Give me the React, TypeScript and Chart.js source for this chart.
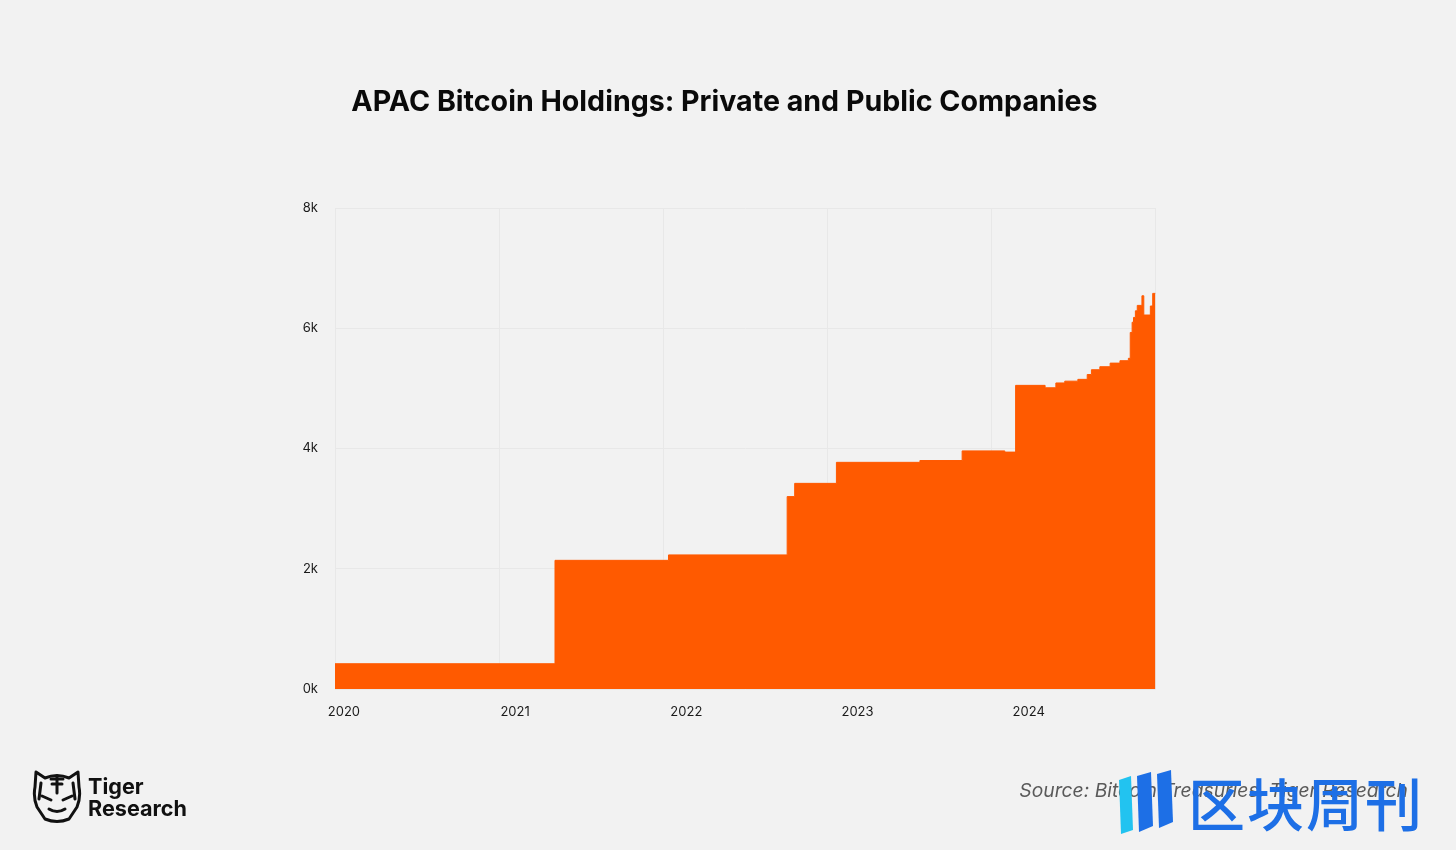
import React, { useEffect, useRef } from "react";
import { Chart, registerables } from "chart.js";

Chart.register(...registerables);

const TITLE = "APAC Bitcoin Holdings: Private and Public Companies";
const SOURCE = "Source: Bitcoin Treasuries, Tiger Research";
const BRAND_LINES = ["Tiger", "Research"];
const WATERMARK = "区块周刊";

const DATES = [
  "2019-12-13", "2021-03-27", "2021-11-24", "2022-08-04", "2022-08-20",
  "2022-11-17", "2023-05-14", "2023-08-12", "2023-11-11", "2023-12-04",
  "2024-02-05", "2024-02-28", "2024-03-18", "2024-04-15", "2024-05-05",
  "2024-05-14", "2024-06-01", "2024-06-23", "2024-07-14", "2024-08-01",
  "2024-08-05", "2024-08-09", "2024-08-12", "2024-08-16", "2024-08-20",
  "2024-08-30", "2024-09-03", "2024-09-17", "2024-09-22", "2024-09-28",
];

const HOLDINGS = [
  420, 2140, 2230, 3200, 3420,
  3770, 3800, 3960, 3940, 5050,
  5010, 5090, 5120, 5150, 5230,
  5310, 5360, 5420, 5460, 5500,
  5930, 6100, 6180, 6290, 6380,
  6540, 6220, 6370, 6580, 6580,
];

const YEAR_TICKS = [2020, 2021, 2022, 2023, 2024];
const Y_TICKS = [0, 2000, 4000, 6000, 8000];

function toYear(d: string): number {
  const [y, m, dd] = d.split("-").map(Number);
  const start = Date.UTC(y, 0, 1);
  const end = Date.UTC(y + 1, 0, 1);
  return y + (Date.UTC(y, m - 1, dd) - start) / (end - start);
}

const TICK_FONT = { family: "Inter", size: 13, weight: 400 as const };

export default function App() {
  const canvasRef = useRef<HTMLCanvasElement | null>(null);

  useEffect(() => {
    document.body.style.margin = "0";
    document.body.style.background = "#f2f2f2";
    const canvas = canvasRef.current;
    if (!canvas) return;
    const points = DATES.map((d, i) => ({ x: toYear(d), y: HOLDINGS[i] }));
    const chart = new Chart(canvas, {
      type: "line",
      data: {
        datasets: [
          {
            data: points,
            stepped: true,
            fill: "origin",
            backgroundColor: "#FF5A00",
            borderColor: "#FF5A00",
            borderWidth: 1,
            pointRadius: 0,
            tension: 0,
          },
        ],
      },
      options: {
        animation: false,
        responsive: false,
        layout: { padding: { top: 208, right: 300.5, bottom: 121, left: 0 } },
        plugins: { legend: { display: false }, tooltip: { enabled: false } },
        scales: {
          x: {
            type: "linear",
            position: "bottom",
            min: points[0].x,
            max: points[points.length - 1].x,
            afterBuildTicks: (s: any) => {
              s.ticks = YEAR_TICKS.map((v) => ({ value: v }));
            },
            afterFit: (s: any) => {
              s.height = 40;
            },
            grid: { display: false },
            border: { display: false },
            ticks: {
              padding: 7,
              autoSkip: false,
              maxRotation: 0,
              color: "#1a1a1a",
              font: TICK_FONT,
              callback: (v: any) => String(v),
            },
          },
          xg: {
            type: "linear",
            position: "top",
            min: 0,
            max: 5,
            afterFit: (s: any) => {
              s.height = 0;
            },
            grid: { color: "#e8e8e8", drawTicks: false },
            border: { display: false },
            ticks: { display: false, stepSize: 1 },
          },
          y: {
            type: "linear",
            min: 0,
            max: 8000,
            afterBuildTicks: (s: any) => {
              s.ticks = Y_TICKS.map((v) => ({ value: v }));
            },
            afterFit: (s: any) => {
              s.width = 335;
            },
            grid: { color: "#e8e8e8", drawTicks: false },
            border: { display: false },
            ticks: {
              padding: 17,
              color: "#1a1a1a",
              font: TICK_FONT,
              callback: (v: any) => Number(v) / 1000 + "k",
            },
          },
        },
      },
    } as any);
    return () => chart.destroy();
  }, []);

  return (
    <div
      style={{
        position: "absolute",
        left: 0,
        top: 0,
        width: 1456,
        height: 850,
        background: "#f2f2f2",
        overflow: "hidden",
        fontFamily: "Inter, sans-serif",
      }}
    >
      <canvas
        ref={canvasRef}
        width={1456}
        height={850}
        style={{ position: "absolute", left: 0, top: 0, width: 1456, height: 850 }}
      />
      <div
        style={{
          position: "absolute",
          left: 0,
          width: 1449,
          top: 83,
          textAlign: "center",
          fontSize: 28.6,
          fontWeight: 700,
          color: "#0a0a0a",
          lineHeight: "36px",
          whiteSpace: "nowrap",
        }}
      >
        {TITLE}
      </div>
      <svg
        width="52"
        height="56"
        viewBox="0 0 52 56"
        style={{ position: "absolute", left: 31, top: 769 }}
      >
        <g fill="none" stroke="#111" strokeWidth="3" strokeLinejoin="round" strokeLinecap="round">
          <path d="M5 3 L14 9 Q26 4 38 9 L47 3 L48 18 Q50 28 46 38 L38 50 Q26 55 14 50 L6 38 Q2 28 4 18 Z" />
          <path d="M20 10 H32 M21 15 H31 M26 7 V24" />
          <path d="M11 27 L20 31 M41 27 L32 31" />
          <path d="M18 40 Q26 45 34 40" />
          <path d="M10 14 L8 30 M42 14 L44 30" />
        </g>
      </svg>
      <div
        style={{
          position: "absolute",
          left: 88,
          top: 775,
          fontSize: 21.6,
          fontWeight: 700,
          lineHeight: "22px",
          color: "#111",
        }}
      >
        {BRAND_LINES.map((l) => (
          <div key={l}>{l}</div>
        ))}
      </div>
      <div
        style={{
          position: "absolute",
          right: 48,
          top: 778,
          fontSize: 19.3,
          fontStyle: "italic",
          color: "#5a5a5a",
          lineHeight: "24px",
          whiteSpace: "nowrap",
        }}
      >
        {SOURCE}
      </div>
      <svg
        width="60"
        height="66"
        viewBox="0 0 60 66"
        style={{ position: "absolute", left: 1117, top: 770 }}
      >
        <path d="M2 10 L14 6 L16 60 L4 64 Z" fill="#22c3f0" />
        <path d="M20 6 L34 2 L36 56 L22 62 Z" fill="#1d6fe6" />
        <path d="M40 4 L54 0 L56 52 L42 58 Z" fill="#1d6fe6" />
      </svg>
      <div
        style={{
          position: "absolute",
          left: 1188,
          top: 770,
          fontSize: 57,
          fontWeight: 500,
          color: "#1d6fe6",
          lineHeight: "62px",
          fontFamily: "'Noto Sans CJK SC', sans-serif",
          letterSpacing: "2px",
          whiteSpace: "nowrap",
        }}
      >
        {WATERMARK}
      </div>
    </div>
  );
}
